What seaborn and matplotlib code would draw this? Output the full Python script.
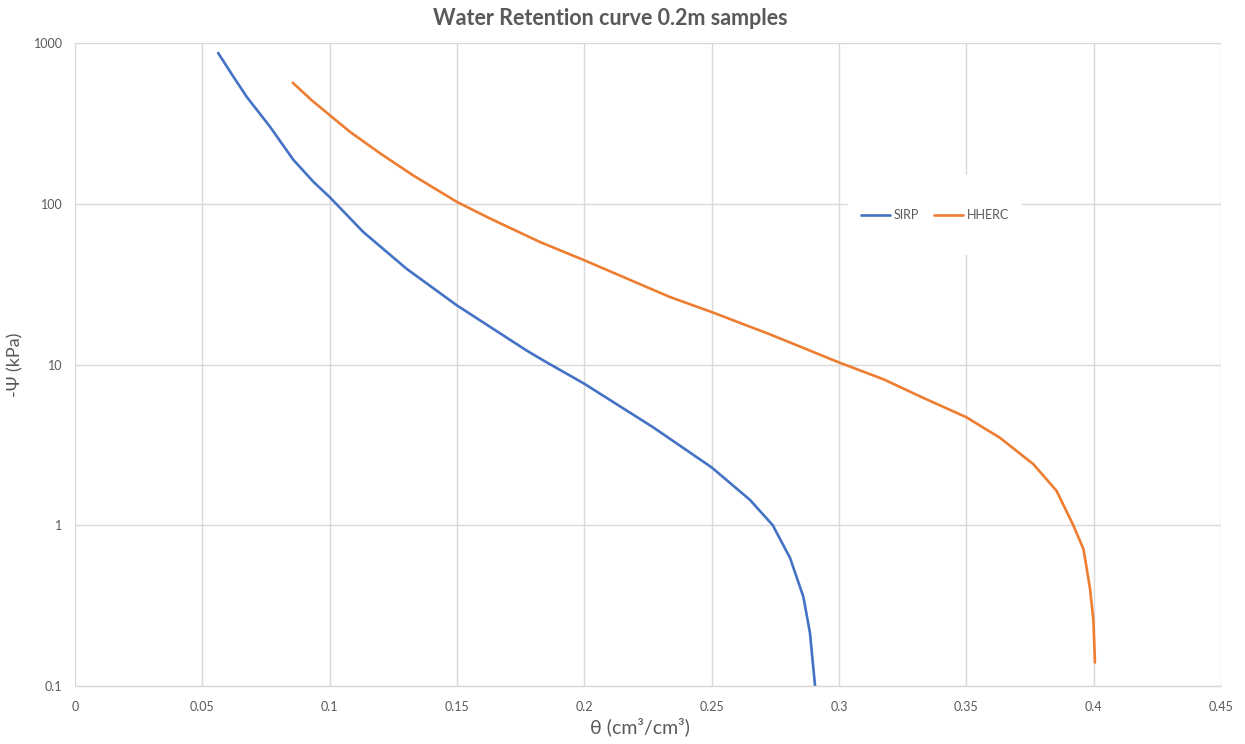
import matplotlib
matplotlib.use("Agg")
import matplotlib.pyplot as plt
import matplotlib.ticker as mticker
import matplotlib.patches as mpatches
import seaborn as sns

# ---- data ----
sirp_theta = [0.0562, 0.0622, 0.0674, 0.0766, 0.0857, 0.0936, 0.1000, 0.1132, 0.1302,
              0.1500, 0.1774, 0.1839, 0.2000, 0.2271, 0.2500, 0.2650, 0.2740, 0.2808,
              0.2860, 0.2886, 0.2906]
sirp_psi = [867, 617, 463, 301, 188, 137, 110, 66.7, 39.4,
            23.3, 12.2, 10.6, 7.59, 4.06, 2.29, 1.44, 1.0, 0.625,
            0.359, 0.214, 0.100]

hherc_theta = [0.0855, 0.0929, 0.1000, 0.1080, 0.1198, 0.1328, 0.1500, 0.1630, 0.1826,
               0.2000, 0.2336, 0.2500, 0.2729, 0.3000, 0.3174, 0.3331, 0.3500, 0.3632,
               0.3763, 0.3854, 0.3920, 0.3960, 0.3985, 0.3999, 0.4005]
hherc_psi = [566, 441, 356, 280, 206, 150, 102.6, 80.9, 57.8,
             44.5, 26.3, 21.2, 15.4, 10.3, 8.1, 6.2, 4.7, 3.5,
             2.40, 1.64, 1.00, 0.71, 0.41, 0.257, 0.14]

x_ticks = [0, 0.05, 0.1, 0.15, 0.2, 0.25, 0.3, 0.35, 0.4, 0.45]
y_ticks = [0.1, 1, 10, 100, 1000]
series_names = ["SIRP", "HHERC"]
colors = ["#4472C4", "#ED7D31"]

# ---- style ----
sns.set_theme(style="white")
plt.rcParams['font.family'] = ['Lato', 'DejaVu Sans']
txt_color = "#595959"
grid_color = "#D9D9D9"

fig = plt.figure(figsize=(12.45, 7.44), dpi=100)
ax = fig.add_axes([75/1245, 1-686/744, (1221-75)/1245, (686-43)/744])

sns.lineplot(x=sirp_theta, y=sirp_psi, ax=ax, color=colors[0], linewidth=1.9,
             sort=False, estimator=None, label=series_names[0])
sns.lineplot(x=hherc_theta, y=hherc_psi, ax=ax, color=colors[1], linewidth=1.9,
             sort=False, estimator=None, label=series_names[1])

ax.set_yscale("log")
ax.set_xlim(0, 0.45)
ax.set_ylim(0.1, 1000)
ax.set_xticks(x_ticks)
ax.set_yticks(y_ticks)
ax.yaxis.set_minor_locator(mticker.NullLocator())
ax.xaxis.set_major_formatter(mticker.FuncFormatter(lambda v, p: f"{v:g}"))
ax.yaxis.set_major_formatter(mticker.FuncFormatter(lambda v, p: f"{v:g}"))
ax.tick_params(axis="both", length=0, labelsize=9, labelcolor=txt_color)
ax.tick_params(axis="x", pad=11)
ax.tick_params(axis="y", pad=9)

ax.set_axisbelow(True)
ax.grid(True, which="major", color=grid_color, linewidth=1.0)
for s in ["top", "right", "left"]:
    ax.spines[s].set_visible(False)
ax.spines["bottom"].set_color(grid_color)
ax.spines["bottom"].set_linewidth(1.0)

ax.set_title("Water Retention curve 0.2m samples", fontsize=15.5, fontweight="bold",
             color=txt_color, pad=13, x=0.467)
ax.set_xlabel("θ (cm³/cm³)", fontsize=14, color=txt_color, va="center")
ax.xaxis.set_label_coords(0.493, -0.064)
ax.set_ylabel("-Ψ (kPa)", fontsize=13, color=txt_color, va="center")
ax.yaxis.set_label_coords(-0.052, 0.5)

# white legend background box
bg = mpatches.Rectangle((848/1245, 1-255/744), 174/1245, 80/744, transform=fig.transFigure,
                        facecolor="white", edgecolor="none", zorder=1.5)
ax.add_patch(bg)

leg = ax.legend(loc="center", bbox_to_anchor=(935/1245, 1-215/744),
                bbox_transform=fig.transFigure, ncol=2, frameon=False,
                fontsize=9, handlelength=2.3, handletextpad=0.3, columnspacing=1.2)
for t in leg.get_texts():
    t.set_color(txt_color)
for h in leg.get_lines():
    h.set_linewidth(1.9)

fig.savefig("out.png", dpi=100)
